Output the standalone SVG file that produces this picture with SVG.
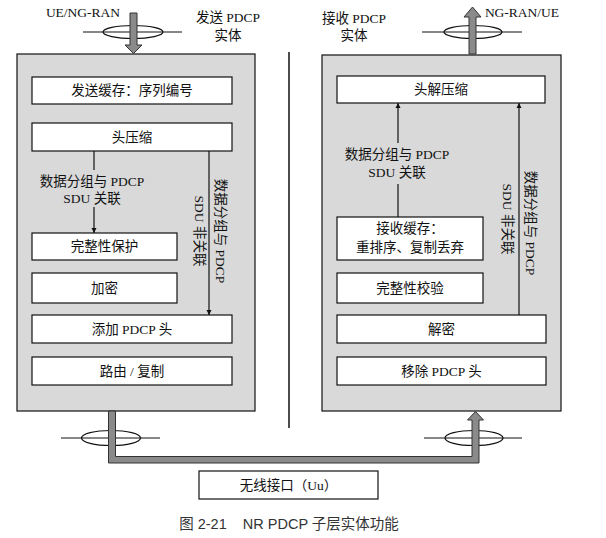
<svg xmlns="http://www.w3.org/2000/svg" width="606" height="538" viewBox="0 0 606 538">
<defs>
<style>
text{font-family:"Liberation Serif","Noto Sans CJK SC",serif;font-size:13.5px;fill:#111;text-anchor:middle}
.cap{font-family:"Liberation Sans","Noto Sans CJK SC",sans-serif;font-size:14.5px;fill:#333;white-space:pre}
.ent{fill:#d9d9d9;stroke:#111;stroke-width:1.2}
.box{fill:#fff;stroke:#111;stroke-width:1.2}
.ln{stroke:#111;stroke-width:1.2;fill:none}
.big{fill:#8a8a8a;stroke:#333;stroke-width:1}
.ell{fill:none;stroke:#111;stroke-width:1.2}
</style>
<marker id="ah" viewBox="0 0 10 10" refX="10" refY="5" markerWidth="5" markerHeight="9" markerUnits="userSpaceOnUse" orient="auto">
<path d="M0,0 L10,5 L0,10 Z" fill="#111"/>
</marker>
</defs>
<rect width="606" height="538" fill="#fff"/>

<g id="labels-top">
<text x="83" y="17">UE/NG-RAN</text>
<text x="228" y="22">发送 PDCP</text>
<text x="228" y="40">实体</text>
<text x="354" y="23">接收 PDCP</text>
<text x="354" y="40">实体</text>
<text x="522" y="17">NG-RAN/UE</text>
</g>

<g id="tx-entity">
<rect class="ent" x="17" y="54" width="238" height="357"/>
</g>
<g id="rx-entity">
<rect class="ent" x="322" y="55" width="239" height="356"/>
</g>

<line id="divider" x1="289" y1="52" x2="289" y2="428" stroke="#111" stroke-width="1.5"/>

<g id="tx-buffer"><rect class="box" x="32" y="77" width="200" height="27"/><text x="132" y="95">发送缓存：序列编号</text></g>
<g id="header-compression"><rect class="box" x="32" y="123" width="200" height="28"/><text x="132" y="141.5">头压缩</text></g>
<g id="integrity-protection"><rect class="box" x="32" y="233" width="145" height="27"/><text x="104.5" y="251">完整性保护</text></g>
<g id="ciphering"><rect class="box" x="32" y="273" width="145" height="30"/><text x="104.5" y="292.5">加密</text></g>
<g id="add-header"><rect class="box" x="32" y="315" width="200" height="28"/><text x="132" y="334">添加 PDCP 头</text></g>
<g id="routing"><rect class="box" x="32" y="357" width="200" height="28"/><text x="132" y="375.5">路由 / 复制</text></g>

<g id="header-decompression"><rect class="box" x="337" y="76" width="208" height="27"/><text x="441" y="94">头解压缩</text></g>
<g id="rx-buffer"><rect class="box" x="337" y="217" width="146" height="43"/><text x="410" y="232.5">接收缓存：</text><text x="410" y="251.5">重排序、复制丢弃</text></g>
<g id="integrity-verification"><rect class="box" x="337" y="273" width="146" height="30"/><text x="410" y="292.5">完整性校验</text></g>
<g id="deciphering"><rect class="box" x="337" y="315" width="209" height="28"/><text x="441.5" y="334">解密</text></g>
<g id="remove-header"><rect class="box" x="337" y="357" width="209" height="28"/><text x="441.5" y="375.5">移除 PDCP 头</text></g>

<g id="air-interface"><rect class="box" x="199" y="471" width="179" height="28"/><text x="288.5" y="489.5">无线接口（Uu）</text></g>

<g id="connectors">
<line class="ln" x1="94" y1="151" x2="94" y2="170"/>
<line class="ln" x1="94" y1="207" x2="94" y2="233" marker-end="url(#ah)"/>
<text x="92" y="185.5">数据分组与 PDCP</text>
<text x="92" y="202.5">SDU 关联</text>

<line class="ln" x1="209" y1="151" x2="209" y2="315" marker-end="url(#ah)"/>
<text transform="translate(216,231) rotate(90)">数据分组与 PDCP</text>
<text transform="translate(195,231) rotate(90)">SDU 非关联</text>

<line class="ln" x1="398" y1="217" x2="398" y2="184"/>
<line class="ln" x1="398" y1="143" x2="398" y2="103" marker-end="url(#ah)"/>
<text x="397" y="158.5">数据分组与 PDCP</text>
<text x="397" y="176.5">SDU 关联</text>

<line class="ln" x1="519" y1="315" x2="519" y2="103" marker-end="url(#ah)"/>
<text transform="translate(526,223) rotate(90)">数据分组与 PDCP</text>
<text transform="translate(503,219) rotate(90)">SDU 非关联</text>

<line class="ln" x1="83" y1="32" x2="182" y2="32"/>
<ellipse class="ell" cx="133" cy="32" rx="30" ry="6.5" fill="#fff"/>
<path class="big" d="M130,13 L137,13 L137,45 L142,45 L133.5,53.5 L125,45 L130,45 Z"/>

<line class="ln" x1="422" y1="32" x2="522" y2="32"/>
<ellipse class="ell" cx="473" cy="32" rx="29" ry="6.5"/>
<path class="big" d="M469,54 L476,54 L476,17 L481,17 L472.5,7 L464,17 L469,17 Z"/>

<line class="ln" x1="61" y1="438" x2="160" y2="438"/>
<ellipse class="ell" cx="111" cy="438" rx="29.5" ry="7.5"/>
<line class="ln" x1="424" y1="438" x2="522" y2="438"/>
<ellipse class="ell" cx="474" cy="438" rx="29" ry="7.5"/>
<path class="big" d="M108.5,411 L108.5,463 L479,463 L479,420 L483.5,420 L475.5,411.5 L467.5,420 L472,420 L472,456.5 L115.5,456.5 L115.5,411 Z"/>
</g>

<text class="cap" x="289" y="529" xml:space="preserve">图 2-21    NR PDCP 子层实体功能</text>
</svg>
